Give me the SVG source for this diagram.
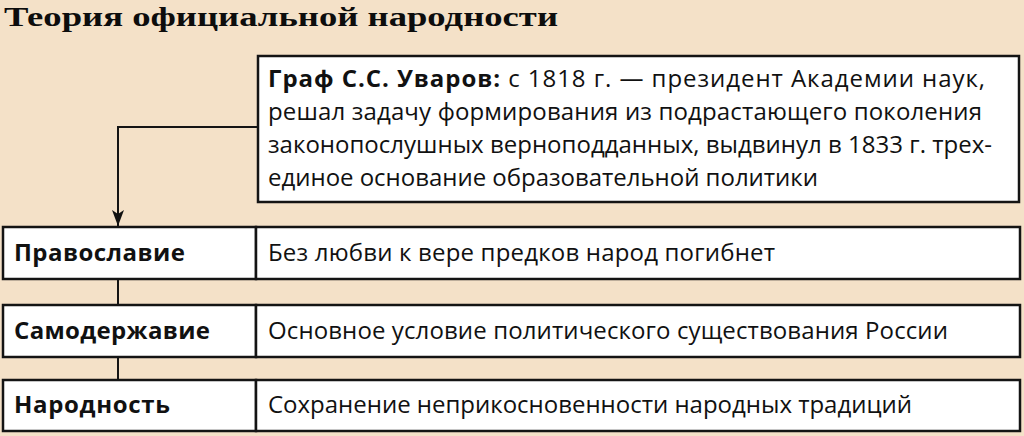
<svg xmlns="http://www.w3.org/2000/svg" width="1024" height="436" viewBox="0 0 1024 436">
  <defs>
    <marker id="arr" markerWidth="16" markerHeight="12" refX="16" refY="6" orient="auto" markerUnits="userSpaceOnUse" viewBox="0 0 16 12">
      <path d="M0,0 L16,6 L0,12 L4,6 Z" fill="#111"/>
    </marker>
    <style>
      .box { fill: #ffffff; stroke: #141414; stroke-width: 2.5; }
      .t { font-family: "Open Sans", "Noto Sans", "DejaVu Sans", sans-serif; font-size: 24px; fill: #111; }
      .b { font-weight: bold; }
      .title { font-family: "Liberation Serif", "DejaVu Serif", serif; font-weight: bold; font-size: 28px; fill: #0d0d0d; }
      .conn { fill: none; stroke: #141414; stroke-width: 2; }
    </style>
  </defs>
  <rect width="1024" height="436" fill="#F4E1C8"/>

  <text class="title" x="4" y="26" textLength="554" lengthAdjust="spacingAndGlyphs">Теория официальной народности</text>

  <g id="connectors">
    <path class="conn" d="M258,127 H118 V226" marker-end="url(#arr)"/>
    <line class="conn" x1="118" y1="279" x2="118" y2="305"/>
    <line class="conn" x1="118" y1="357" x2="118" y2="380"/>
  </g>

  <g id="uvarov">
    <rect class="box" x="258" y="56" width="761" height="146"/>
    <text class="t" x="268" y="87" textLength="717" lengthAdjust="spacing"><tspan class="b">Граф С.С. Уваров:</tspan> с 1818 г. — президент Академии наук,</text>
    <text class="t" x="268" y="120" textLength="714" lengthAdjust="spacing">решал задачу формирования из подрастающего поколения</text>
    <text class="t" x="268" y="153" textLength="724" lengthAdjust="spacing">законопослушных верноподданных, выдвинул в 1833 г. трех-</text>
    <text class="t" x="268" y="186" textLength="550" lengthAdjust="spacing">единое основание образовательной политики</text>
  </g>

  <g id="pravoslavie">
    <rect class="box" x="3" y="227" width="253" height="52"/>
    <text class="t b" x="14" y="261" textLength="171" lengthAdjust="spacing">Православие</text>
  </g>
  <g id="pravoslavie-desc">
    <rect class="box" x="256" y="227" width="764" height="52"/>
    <text class="t" x="268" y="261" textLength="507" lengthAdjust="spacing">Без любви к вере предков народ погибнет</text>
  </g>

  <g id="samoderzhavie">
    <rect class="box" x="3" y="305" width="253" height="52"/>
    <text class="t b" x="14" y="339" textLength="196" lengthAdjust="spacing">Самодержавие</text>
  </g>
  <g id="samoderzhavie-desc">
    <rect class="box" x="256" y="305" width="764" height="52"/>
    <text class="t" x="268" y="339" textLength="680" lengthAdjust="spacing">Основное условие политического существования России</text>
  </g>

  <g id="narodnost">
    <rect class="box" x="3" y="380" width="253" height="51"/>
    <text class="t b" x="14" y="413" textLength="156" lengthAdjust="spacing">Народность</text>
  </g>
  <g id="narodnost-desc">
    <rect class="box" x="256" y="380" width="764" height="51"/>
    <text class="t" x="268" y="413" textLength="644" lengthAdjust="spacing">Сохранение неприкосновенности народных традиций</text>
  </g>
</svg>
